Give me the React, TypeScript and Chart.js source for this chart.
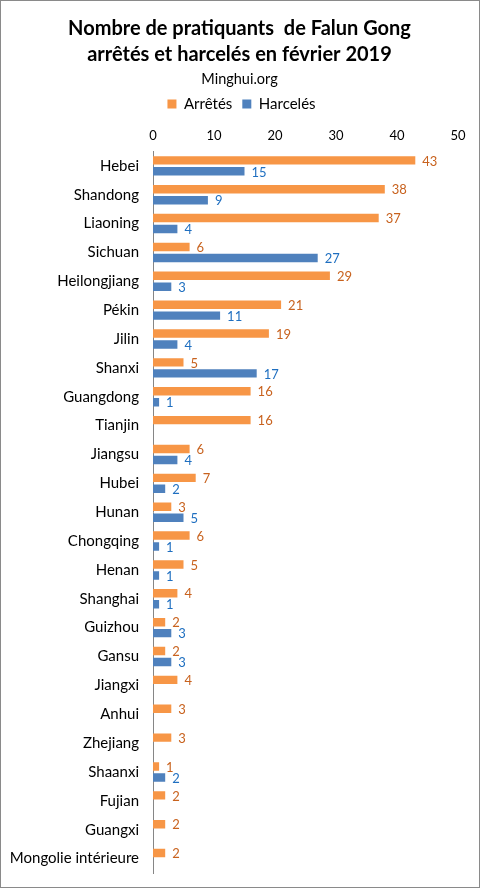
import { Chart, registerables, type ChartConfiguration, type Plugin } from "chart.js";
import { useEffect, useRef } from "react";

Chart.register(...registerables);

const provinces = [
  "Hebei", "Shandong", "Liaoning", "Sichuan", "Heilongjiang", "Pékin", "Jilin",
  "Shanxi", "Guangdong", "Tianjin", "Jiangsu", "Hubei", "Hunan", "Chongqing",
  "Henan", "Shanghai", "Guizhou", "Gansu", "Jiangxi", "Anhui", "Zhejiang",
  "Shaanxi", "Fujian", "Guangxi", "Mongolie intérieure",
];

const arretes = [43, 38, 37, 6, 29, 21, 19, 5, 16, 16, 6, 7, 3, 6, 5, 4, 2, 2, 4, 3, 3, 1, 2, 2, 2];
const harceles = [15, 9, 4, 27, 3, 11, 4, 17, 1, null, 4, 2, 5, 1, 1, 1, 3, 3, null, null, null, 2, null, null, null];

const xTicks = [0, 10, 20, 30, 40, 50];

const FONT = "Lato, 'Open Sans', sans-serif";
const labelColors = ["#C8621E", "#1F6FC0"];

// value labels to the right of each bar
const valueLabels: Plugin<"bar"> = {
  id: "valueLabels",
  afterLayout(chart) {
    // title, subtitle and legend are centred on the plot width, nudge them to the middle of the page
    chart.boxes.forEach((box: any) => {
      if (!box.fullSize || box.position !== "top") return;
      const dx = box === chart.legend ? 12 : 10;
      box.left += dx;
      box.right += dx;
    });
  },
  afterDatasetsDraw(chart) {
    const ctx = chart.ctx;
    ctx.save();
    ctx.font = `13px ${FONT}`;
    ctx.textBaseline = "middle";
    ctx.textAlign = "left";
    chart.data.datasets.forEach((ds, di) => {
      const meta = chart.getDatasetMeta(di);
      ctx.fillStyle = labelColors[di];
      meta.data.forEach((bar, i) => {
        const v = ds.data[i];
        if (v === null || v === undefined) return;
        ctx.fillText(String(v), bar.x + 7, bar.y + 1);
      });
    });
    ctx.restore();
  },
};

export default function App() {
  const canvasRef = useRef<HTMLCanvasElement>(null);

  useEffect(() => {
    document.body.style.margin = "0";
    if (!canvasRef.current) return undefined;

    const config: ChartConfiguration<"bar"> = {
      type: "bar",
      data: {
        labels: provinces,
        datasets: [
          { label: "Arrêtés", data: arretes, backgroundColor: "#F79646" },
          { label: "Harcelés", data: harceles as number[], backgroundColor: "#4F81BD" },
        ],
      },
      options: {
        indexAxis: "y",
        animation: false,
        responsive: false,
        devicePixelRatio: 1,
        categoryPercentage: 0.76,
        barPercentage: 0.77,
        layout: { padding: { left: 0, right: 21, top: 0, bottom: 14 } },
        plugins: {
          title: {
            display: true,
            text: ["Nombre de pratiquants  de Falun Gong", "arrêtés et harcelés en février 2019"],
            color: "#000",
            font: { family: FONT, size: 20, weight: "bold", lineHeight: 1.3 },
            padding: { top: 15, bottom: 3 },
          },
          subtitle: {
            display: true,
            text: "Minghui.org",
            color: "#000",
            font: { family: FONT, size: 14.5, lineHeight: 1.2 },
            padding: { top: 0, bottom: -2 },
          },
          legend: {
            display: true,
            position: "top",
            labels: {
              color: "#000",
              boxWidth: 9,
              boxHeight: 9,
              padding: 10,
              font: { family: FONT, size: 15, lineHeight: 1.2 },
            },
          },
          tooltip: { enabled: false },
        },
        scales: {
          x: {
            position: "top",
            min: 0,
            max: 50,
            afterBuildTicks: (scale) => {
              scale.ticks = xTicks.map((v) => ({ value: v }));
            },
            afterFit: (scale) => {
              scale.height = 30;
            },
            grid: { display: false, drawTicks: false },
            border: { display: false },
            ticks: {
              color: "#000",
              padding: 8,
              font: { family: FONT, size: 13 },
            },
          },
          y: {
            grid: { display: false, drawTicks: false },
            border: { display: true, color: "#868686", width: 1 },
            afterFit: (scale) => {
              scale.width = 152;
              scale.paddingTop = 0;
              scale.paddingBottom = 0;
            },
            ticks: {
              color: "#000",
              padding: 14,
              autoSkip: false,
              font: { family: FONT, size: 15 },
            },
          },
        },
      },
      plugins: [valueLabels],
    };

    const chart = new Chart(canvasRef.current, config);
    return () => chart.destroy();
  }, []);

  return (
    <div
      style={{
        position: "relative",
        width: 480,
        height: 888,
        border: "1px solid #8a8a8a",
        boxSizing: "border-box",
        background: "#fff",
      }}
    >
      <canvas ref={canvasRef} width={478} height={886} style={{ display: "block" }} />
    </div>
  );
}
